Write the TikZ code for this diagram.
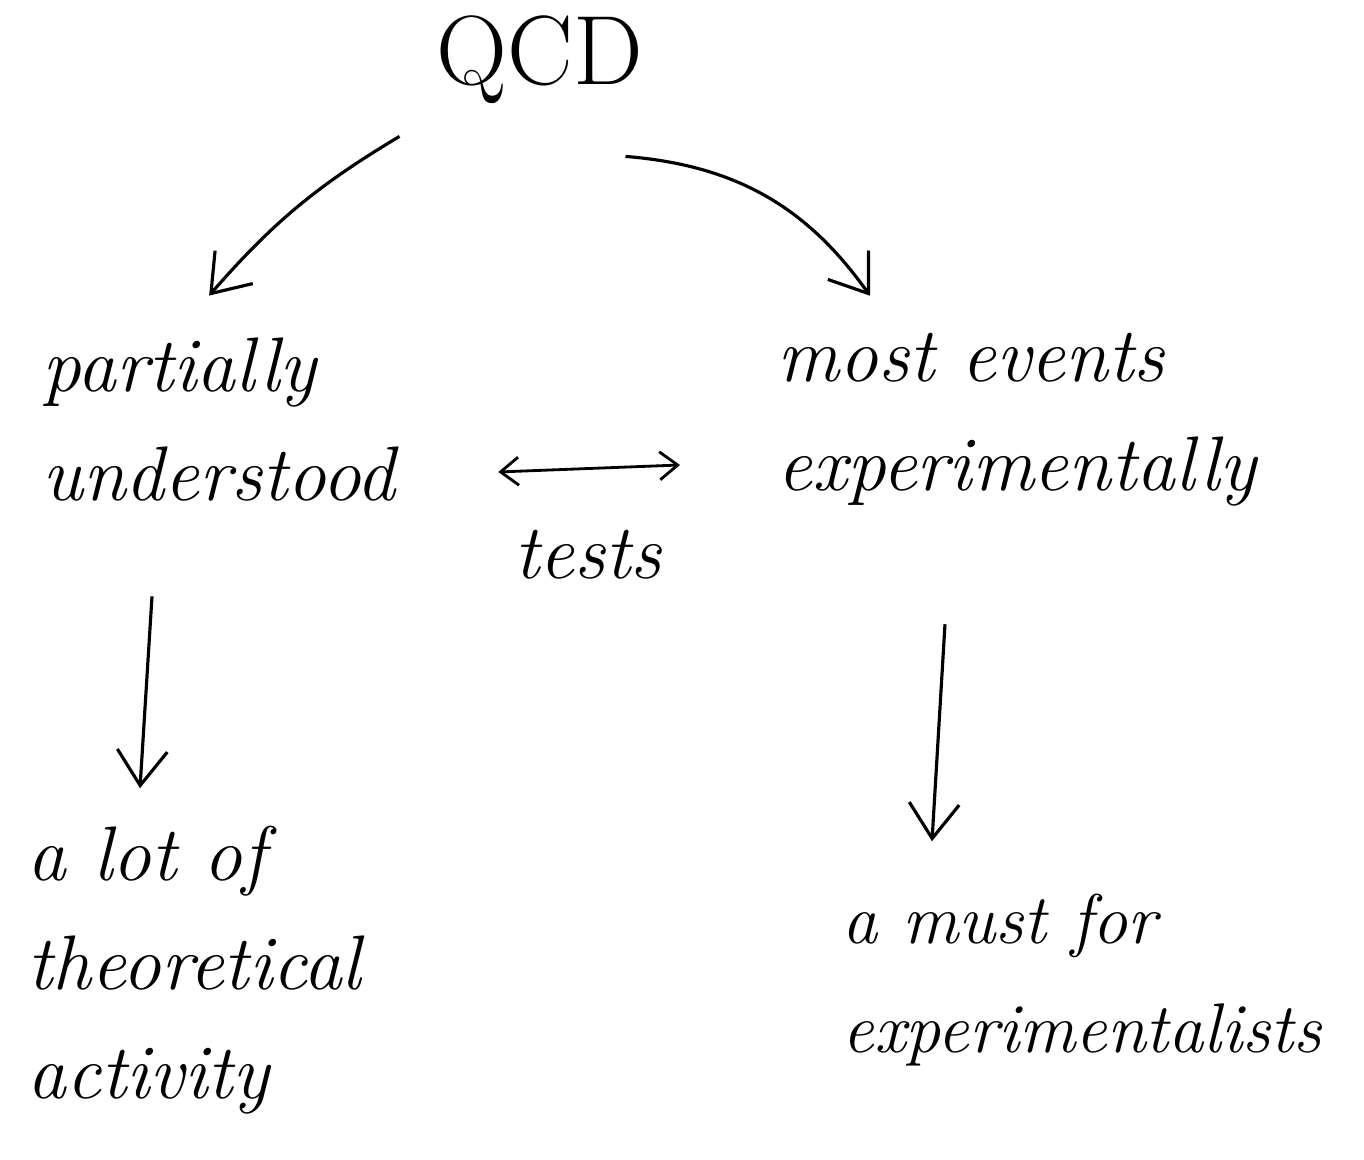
\documentclass[tikz,border=0pt]{standalone}
\usetikzlibrary{arrows.meta}
\begin{document}
\begin{tikzpicture}[hand/.style={font=\fontsize{22}{31}\selectfont\itshape,align=left,inner sep=2pt,anchor=west},
  arr/.style={-{Straight Barb[length=3.5mm,width=5mm]},line width=0.9pt},
  darr/.style={{Straight Barb[length=1.8mm,width=2.8mm]}-{Straight Barb[length=1.8mm,width=2.8mm]},line width=0.8pt}] %
    \useasboundingbox (0,0) rectangle (13.64,11.6);
    \node[font=\fontsize{28}{30}\selectfont] (qcd) at (5.4,11.0) {QCD} ; %
    \node[hand] (partial) at (0.35,7.4) {partially\\understood} ; %
    \node[hand] (most) at (7.7,7.4) {most events\\experimentally} ; %
    \node[hand] (tests) at (5.07,6.05) {tests} ; %
    \node[hand] (alot) at (0.2,1.9) {a lot of\\theoretical\\activity};
    \node[hand,font=\fontsize{20}{31}\selectfont\itshape] (must) at (8.35,1.8) {a must for\\experimentalists};
    \draw[arr] ([shift={(-0.25,-0.2)}]qcd.south west) to[bend right=9] ([shift={(-0.1,0.35)}]partial.north) ; %
    \draw[arr] ([shift={(-0.3,-0.4)}]qcd.south east) to[bend left=25] ([shift={(1.0,0.3)}]most.north west) ; %
    \draw[darr] ([shift={(0.95,-0.52)}]partial.east) -- ([shift={(-0.9,-0.45)}]most.west);
    \draw[arr] ([shift={(1.17,-0.87)}]partial.south west) -- ([shift={(1.2,0.3)}]alot.north west);
    \draw[arr] ([shift={(1.75,-1.1)}]most.south west) -- ([shift={(0.97,0.45)}]must.north west);
  \end{tikzpicture}
\end{document}
